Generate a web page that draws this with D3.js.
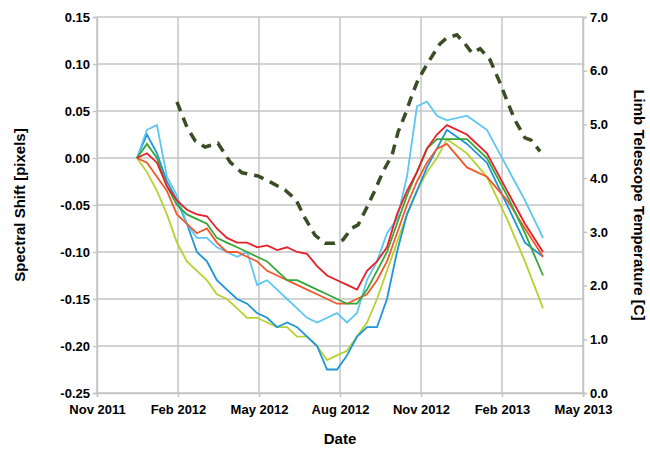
<!DOCTYPE html><html><head><meta charset="utf-8"><script src="https://cdn.jsdelivr.net/npm/d3@7"></script>
<style>body{margin:0;background:#fff}text{font-family:"Liberation Sans",Arial,sans-serif;font-weight:bold}</style></head><body><svg id="c" width="650" height="450"></svg>
<script>
const xMonths=[1.48,1.85,2.22,2.59,2.96,3.33,3.70,4.07,4.44,4.81,5.19,5.56,5.93,6.30,6.67,7.04,7.41,7.78,8.15,8.52,8.89,9.26,9.63,10.0,10.37,10.74,11.11,11.48,11.85,12.22,12.59,12.96,13.70,14.44,15.19,15.85,16.52];
const red=[0,0.005,-0.005,-0.03,-0.045,-0.055,-0.06,-0.062,-0.075,-0.085,-0.09,-0.09,-0.095,-0.093,-0.098,-0.095,-0.1,-0.102,-0.115,-0.125,-0.13,-0.135,-0.14,-0.12,-0.11,-0.095,-0.06,-0.035,-0.015,0.01,0.025,0.035,0.025,0.005,-0.035,-0.07,-0.1];
const orange=[0,-0.005,-0.02,-0.035,-0.06,-0.07,-0.08,-0.075,-0.09,-0.1,-0.1,-0.105,-0.11,-0.12,-0.125,-0.13,-0.135,-0.14,-0.145,-0.15,-0.155,-0.155,-0.15,-0.145,-0.13,-0.11,-0.08,-0.05,-0.025,-0.005,0.01,0.015,-0.01,-0.02,-0.045,-0.075,-0.105];
const green=[0,0.015,0.0,-0.03,-0.05,-0.06,-0.065,-0.07,-0.085,-0.09,-0.095,-0.1,-0.105,-0.11,-0.12,-0.13,-0.13,-0.135,-0.14,-0.145,-0.15,-0.155,-0.155,-0.14,-0.12,-0.1,-0.07,-0.04,-0.015,0.01,0.02,0.02,0.02,0.0,-0.04,-0.08,-0.125];
const lime=[0,-0.015,-0.035,-0.06,-0.09,-0.11,-0.12,-0.13,-0.145,-0.15,-0.16,-0.17,-0.17,-0.175,-0.18,-0.18,-0.19,-0.19,-0.2,-0.215,-0.21,-0.205,-0.19,-0.175,-0.15,-0.12,-0.09,-0.06,-0.035,-0.015,0.0,0.02,0.005,-0.02,-0.065,-0.11,-0.16];
const blue=[0,0.025,0.005,-0.025,-0.045,-0.07,-0.1,-0.11,-0.13,-0.14,-0.15,-0.155,-0.165,-0.17,-0.18,-0.175,-0.18,-0.19,-0.2,-0.225,-0.225,-0.21,-0.19,-0.18,-0.18,-0.15,-0.1,-0.06,-0.035,-0.01,0.01,0.03,0.015,-0.005,-0.05,-0.09,-0.105];
const lightblue=[0,0.03,0.035,-0.02,-0.04,-0.07,-0.085,-0.085,-0.095,-0.1,-0.105,-0.1,-0.135,-0.13,-0.14,-0.15,-0.16,-0.17,-0.175,-0.17,-0.165,-0.175,-0.165,-0.13,-0.11,-0.08,-0.065,-0.02,0.055,0.06,0.045,0.04,0.045,0.03,-0.01,-0.045,-0.085];
const tempMonths=[2.96,3.33,3.63,4.0,4.48,4.93,5.37,5.96,6.41,6.96,7.37,7.70,8.07,8.44,8.81,9.11,9.44,9.67,10.0,10.30,10.59,10.93,11.15,11.41,11.67,11.89,12.26,12.70,12.93,13.33,13.63,13.89,14.19,14.56,14.93,15.22,15.48,15.85,16.07,16.41];
const temp=[5.42,4.95,4.7,4.58,4.65,4.3,4.1,4.04,3.93,3.78,3.6,3.26,2.94,2.79,2.79,2.85,3.07,3.13,3.46,3.78,4.12,4.43,4.86,5.18,5.55,5.83,6.15,6.5,6.6,6.67,6.5,6.33,6.41,6.2,5.77,5.4,5.08,4.75,4.71,4.5];
const xTickLabels=["Nov 2011","Feb 2012","May 2012","Aug 2012","Nov 2012","Feb 2013","May 2013"];
const xTickMonths=[0,3,6,9,12,15,18];
const seriesData=[red,orange,green,lime,blue,lightblue];
const colors=["#e8202a","#f2592a","#34a83a","#b6d22e","#1b96d6","#5cc6f2"];
const drawOrder=[3,4,5,1,2,0];

const m={l:97,r:67,t:17,b:57},W=650,H=450;
const svg=d3.select("#c");
const x=d3.scaleLinear().domain([0,18]).range([m.l,W-m.r]);
const y=d3.scaleLinear().domain([-0.25,0.15]).range([H-m.b,m.t]);
const y2=d3.scaleLinear().domain([0,7]).range([H-m.b,m.t]);
const g=svg.append("g");
const yt=d3.range(-0.25,0.1501,0.05).map(v=>+v.toFixed(2));
const fmt=v=>d3.format(".2f")(v).replace("\u2212","-");
g.selectAll(".gy").data(yt).join("line").attr("x1",m.l).attr("x2",W-m.r).attr("y1",d=>y(d)).attr("y2",d=>y(d)).attr("stroke","#c4c4c4").attr("stroke-width",1.5);
g.selectAll(".gx").data(xTickMonths).join("line").attr("x1",d=>x(d)).attr("x2",d=>x(d)).attr("y1",m.t).attr("y2",H-m.b).attr("stroke","#c4c4c4").attr("stroke-width",1.5);
const ax=d3.axisLeft(y).tickValues(yt).tickFormat(fmt).tickSize(4);
svg.append("g").attr("transform",`translate(${m.l},0)`).call(ax).call(a=>{a.selectAll("text").style("font-size","13px").attr("fill","#000");a.selectAll("line,path").attr("stroke","#c4c4c4").attr("stroke-width",1.5);});
const ax2=d3.axisRight(y2).tickValues(d3.range(0,7.01,1)).tickFormat(d3.format(".1f")).tickSize(4);
svg.append("g").attr("transform",`translate(${W-m.r},0)`).call(ax2).call(a=>{a.selectAll("text").style("font-size","13px").attr("fill","#000");a.selectAll("line,path").attr("stroke","#c4c4c4").attr("stroke-width",1.5);});
const axb=d3.axisBottom(x).tickValues(xTickMonths).tickFormat((d,i)=>xTickLabels[i]).tickSize(4);
svg.append("g").attr("transform",`translate(0,${H-m.b})`).call(axb).call(a=>{a.selectAll("text").style("font-size","13px").attr("fill","#000").attr("dy","1.1em");a.selectAll("line,path").attr("stroke","#c4c4c4").attr("stroke-width",1.5);});
const line=d3.line().x((d,i)=>x(xMonths[i])).y(d=>y(d));
drawOrder.forEach(k=>svg.append("path").attr("d",line(seriesData[k])).attr("fill","none").attr("stroke",colors[k]).attr("stroke-width",1.8));
const tl=d3.line().x((d,i)=>x(tempMonths[i])).y(d=>y2(d));
svg.append("path").attr("d",tl(temp)).attr("fill","none").attr("stroke","#3b4d24").attr("stroke-width",3.5).attr("stroke-dasharray","10,7");
svg.append("text").attr("x",(m.l+W-m.r)/2).attr("y",444).attr("text-anchor","middle").style("font-size","15px").text("Date");
svg.append("text").attr("transform",`translate(25,${(m.t+H-m.b)/2}) rotate(-90)`).attr("text-anchor","middle").style("font-size","15px").text("Spectral Shift [pixels]");
svg.append("text").attr("transform",`translate(634,${(m.t+H-m.b)/2}) rotate(90)`).attr("text-anchor","middle").style("font-size","15px").text("Limb Telescope Temperature [C]");
</script></body></html>
